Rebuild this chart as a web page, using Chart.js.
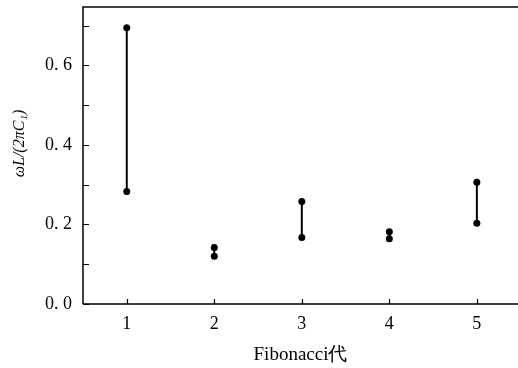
<!DOCTYPE html>
<html>
<head>
<meta charset="utf-8">
<script src="https://cdn.jsdelivr.net/npm/chart.js@4"></script>
<style>
  html, body { margin: 0; padding: 0; background: #fff; overflow: hidden; }
  #wrap { width: 518px; height: 368px; }
</style>
</head>
<body>
<div id="wrap"><canvas id="chart"></canvas></div>
<script>
const generations = [1, 2, 3, 4, 5];
const upperVals = [0.695, 0.142, 0.258, 0.182, 0.306];
const lowerVals = [0.283, 0.120, 0.167, 0.164, 0.203];
const yTicks = [0, 0.1, 0.2, 0.3, 0.4, 0.5, 0.6, 0.7];

const serif = "'Liberation Serif', 'DejaVu Serif', serif";

const datasets = generations.map((g, i) => ({
  label: "Fibonacci " + g,
  data: [{ x: g, y: lowerVals[i] }, { x: g, y: upperVals[i] }],
  borderColor: "#000",
  backgroundColor: "#000",
  borderWidth: 2,
  pointRadius: 3.5,
  pointBorderWidth: 0,
  showLine: true
}));

// inward tick marks + frame (no right side, it is cut off in the original)
const frame = {
  id: "frame",
  afterDraw(chart) {
    const ctx = chart.ctx, a = chart.chartArea;
    const xs = chart.scales.x, ys = chart.scales.y;
    ctx.save();
    ctx.strokeStyle = "#000";
    ctx.lineWidth = 1.5;
    ctx.beginPath();
    ctx.moveTo(a.left, a.bottom);
    ctx.lineTo(a.left, a.top);
    ctx.lineTo(a.right, a.top);
    ctx.moveTo(a.left, a.bottom);
    ctx.lineTo(a.right, a.bottom);
    ctx.stroke();
    ctx.lineWidth = 1.2;
    ctx.beginPath();
    yTicks.forEach(v => {
      const y = Math.round(ys.getPixelForValue(v)) + 0.5;
      ctx.moveTo(a.left, y);
      ctx.lineTo(a.left + 6, y);
    });
    generations.forEach(g => {
      const x = Math.round(xs.getPixelForValue(g)) + 0.5;
      ctx.moveTo(x, a.bottom);
      ctx.lineTo(x, a.bottom - 5);
    });
    ctx.stroke();
    ctx.restore();
  }
};

new Chart(document.getElementById("chart"), {
  type: "scatter",
  data: { datasets },
  options: {
    responsive: true,
    maintainAspectRatio: false,
    animation: false,
    layout: { autoPadding: false, padding: { top: 7, right: 0, left: 0, bottom: 0 } },
    plugins: { legend: { display: false }, tooltip: { enabled: false } },
    scales: {
      x: {
        type: "linear",
        min: 0.5,
        max: 5.47,
        afterBuildTicks: s => { s.ticks = generations.map(v => ({ value: v })); },
        afterFit: s => { s.height = 64; s.paddingLeft = 0; s.paddingRight = 0; },
        grid: { display: false, drawTicks: false },
        border: { display: false },
        ticks: { color: "#000", padding: 9, font: { family: serif, size: 18 }, callback: v => String(v) },
        title: {
          display: true,
          text: "Fibonacci代",
          color: "#000",
          font: { family: serif, size: 19 },
          padding: { top: 6, bottom: 2 }
        }
      },
      y: {
        min: 0,
        max: 0.747,
        afterBuildTicks: s => { s.ticks = yTicks.map(v => ({ value: v })); },
        afterFit: s => { s.width = 83; s.paddingTop = 0; s.paddingBottom = 0; },
        grid: { display: false, drawTicks: false },
        border: { display: false },
        ticks: {
          color: "#000",
          padding: 11,
          font: { family: serif, size: 18 },
          callback: v => (Math.round(v * 10) % 2 === 0 ? v.toFixed(1).replace(".", ". ") : "")
        },
        title: {
          display: true,
          text: "      ωL/(2πC₁)",
          color: "#000",
          font: { family: serif, size: 16, style: "italic" },
          padding: { top: 10, bottom: 4 }
        }
      }
    }
  },
  plugins: [frame]
});
</script>
</body>
</html>
